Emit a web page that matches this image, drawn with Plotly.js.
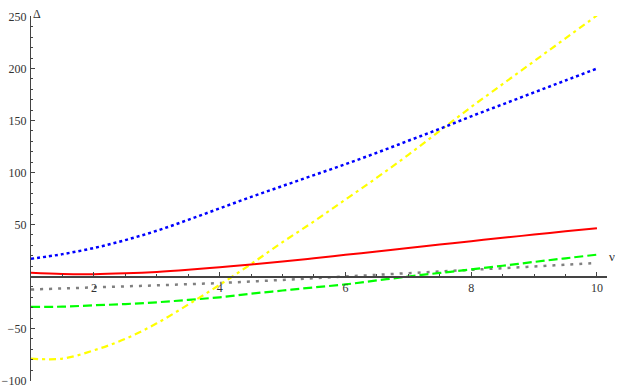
<!DOCTYPE html>
<html>
<head>
<meta charset="utf-8">
<script src="https://cdn.plot.ly/plotly-3.0.1.min.js"></script>
<style>
  html, body { margin: 0; padding: 0; background: #fff; }
  #plot { width: 623px; height: 390px; }
</style>
</head>
<body>
<div id="plot"></div>
<script>
// values, nu = 1 .. 10 in steps of 0.5
var nu = [1, 1.5, 2, 2.5, 3, 3.5, 4, 4.5, 5, 5.5, 6, 6.5, 7, 7.5, 8, 8.5, 9, 9.5, 10];

var blau  = [17, 21.5, 27.4, 35, 44, 54.5, 65.5, 76.5, 87, 97.5, 108, 119, 130.5, 142, 154, 165.5, 177, 188.5, 200];
var rot   = [3.6, 2.4, 2.2, 3, 4.4, 6.5, 9, 11.5, 14.3, 17.5, 20.8, 24.1, 27.4, 30.7, 34, 37.2, 40.3, 43.4, 46.5];
var gelb  = [-79, -79, -71, -60, -45, -27, -8, 12, 33, 53, 74, 95, 117, 140, 163, 185, 207, 229, 251];
var gruen = [-29.3, -29, -27.7, -26.5, -24.8, -22.5, -20, -16.5, -13.5, -10.5, -7.6, -3.8, 0, 3.4, 6.8, 10.3, 14, 17.5, 21];
var grau  = [-12.5, -11.5, -10.5, -9.5, -8.5, -7.4, -6.3, -4.8, -3.3, -1.6, 0, 1.6, 3.2, 4.8, 6.4, 8, 9.6, 11.3, 13];

var yTicks = [-100, -50, 50, 100, 150, 200, 250];
var xTicks = [2, 4, 6, 8, 10];

function linea(y, col, dash, w) {
  return {
    x: nu, y: y, mode: 'lines', line: {color: col, width: w, dash: dash, shape: 'spline'},
    hoverinfo: 'skip', showlegend: false
  };
}

function crea() {
  var data = [
    linea(grau, 'rgb(128,128,128)', '3px,6px', 2.5),
    linea(gruen, 'rgb(0,255,0)', '9px,4px', 2.2),
    linea(gelb, 'rgb(255,255,0)', '7px,4px,3px,4px', 2.2),
    linea(blau, 'rgb(0,0,255)', '3px,3px', 2.5),
    linea(rot, 'rgb(255,0,0)', 'solid', 2)
  ];

  var serif = 'Liberation Serif, Times New Roman, serif';
  var asse = {
    showgrid: false, zeroline: false, showline: true,
    linecolor: '#444', linewidth: 1.2,
    ticks: 'inside', tickcolor: '#444', ticklen: 4, tickwidth: 1,
    ticklabeloverflow: 'allow',
    tickfont: {family: serif, size: 12, color: '#333'}
  };

  var layout = {
    width: 623, height: 390,
    margin: {l: 31, r: 16, t: 16, b: 9},
    paper_bgcolor: '#fff', plot_bgcolor: '#fff',
    xaxis: Object.assign({}, asse, {
      range: [1, 10.16], tickmode: 'array', tickvals: xTicks,
      anchor: 'free', position: 100.5 / 351,
      minor: {dtick: 0.5, tick0: 0, ticks: 'inside', ticklen: 2, tickcolor: '#444'}
    }),
    yaxis: Object.assign({}, asse, {
      range: [-100.5, 250.5], tickmode: 'array', tickvals: yTicks, ticklabelstandoff: 1,
      minor: {dtick: 10, tick0: 0, ticks: 'inside', ticklen: 2, tickcolor: '#444'}
    }),
    annotations: [
      {text: 'Δ', xref: 'paper', yref: 'paper', x: 0, y: 1, yshift: 11, showarrow: false,
       font: {family: serif, size: 12, color: '#333'}},
      {text: 'ν', xref: 'paper', yref: 'paper', x: 1, xshift: 10, y: 100.5 / 351, yshift: 10, showarrow: false,
       font: {family: serif, size: 13, color: '#333'}}
    ]
  };

  Plotly.newPlot('plot', data, layout, {staticPlot: true});
}
crea();
</script>
</body>
</html>
